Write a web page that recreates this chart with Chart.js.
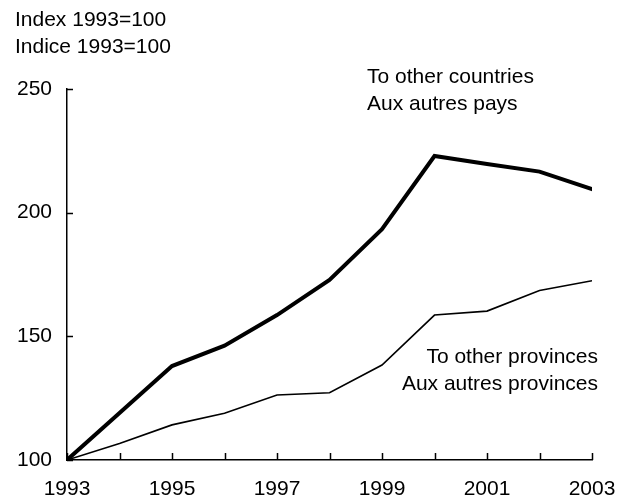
<!DOCTYPE html>
<html>
<head>
<meta charset="utf-8">
<script src="https://cdn.jsdelivr.net/npm/chart.js@4.4.1/dist/chart.umd.min.js"></script>
<style>
    html, body { margin: 0; padding: 0; background: #fff; }
    #wrap { position: relative; width: 629px; height: 502px; }
</style>
</head>
<body>
<div id="wrap"><canvas id="exports-index"></canvas></div>
<script>
// Years and index values (1993 = 100)
const years = [1993, 1994, 1995, 1996, 1997, 1998, 1999, 2000, 2001, 2002, 2003];
const toCountries = [100, 119, 138, 146.2, 158.6, 172.8, 193.3, 222.9, 219.7, 216.6, 209.5];
const toProvinces = [100, 106.7, 114.2, 118.9, 126.3, 127.2, 138.4, 158.6, 160.2, 168.5, 172.5];
const yTicks = [100, 150, 200, 250];

const fontFamily = '"Liberation Sans", Arial, Helvetica, sans-serif';
const textFont = '21px ' + fontFamily;

// short tick marks pointing into the plot, plus the free text labels
const innerTicks = {
    id: 'innerTicks',
    afterDraw(chart) {
        const ctx = chart.ctx;
        const x = chart.scales.x;
        const y = chart.scales.y;
        ctx.save();
        ctx.strokeStyle = '#000';
        ctx.lineWidth = 1.5;
        ctx.beginPath();
        years.forEach(function(yr) {
            const px = Math.round(x.getPixelForValue(yr)) + 0.5;
            ctx.moveTo(px, y.bottom);
            ctx.lineTo(px, y.bottom - 7);
        });
        yTicks.forEach(function(v) {
            const py = Math.round(y.getPixelForValue(v)) + 0.5;
            ctx.moveTo(x.left, py);
            ctx.lineTo(x.left + 6, py);
        });
        ctx.stroke();

        ctx.fillStyle = '#000';
        ctx.font = textFont;
        ctx.textBaseline = 'middle';
        ctx.textAlign = 'left';
        ctx.fillText('Index 1993=100', 15, 20);
        ctx.fillText('Indice 1993=100', 15, 47);
        ctx.fillText('To other countries', 367, 77);
        ctx.fillText('Aux autres pays', 367, 104);
        ctx.textAlign = 'right';
        ctx.fillText('To other provinces', 598, 357);
        ctx.fillText('Aux autres provinces', 598, 384);
        ctx.restore();
    }
};

const data = {
    labels: years,
    datasets: [{
        label: 'To other countries / Aux autres pays',
        data: years.map((yr, i) => ({ x: yr, y: toCountries[i] })),
        borderColor: '#000',
        borderWidth: 4,
        pointRadius: 0,
        tension: 0,
        borderCapStyle: 'round',
        borderJoinStyle: 'miter'
    }, {
        label: 'To other provinces / Aux autres provinces',
        data: years.map((yr, i) => ({ x: yr, y: toProvinces[i] })),
        borderColor: '#000',
        borderWidth: 1.6,
        pointRadius: 0,
        tension: 0
    }]
};

const config = {
    type: 'line',
    data: data,
    options: {
        responsive: true,
        maintainAspectRatio: false,
        animation: false,
        layout: {
            padding: { top: 89, right: 37, left: 0, bottom: 0 }
        },
        plugins: {
            legend: { display: false },
            title: { display: false },
            tooltip: { enabled: false }
        },
        scales: {
            x: {
                type: 'linear',
                min: 1993,
                max: 2003,
                afterFit: function(scale) {
                    scale.height = 42;
                    // year labels may hang past the plot edges
                    scale.paddingLeft = 0;
                    scale.paddingRight = 0;
                },
                grid: { display: true, drawOnChartArea: false, drawTicks: false },
                border: { display: true, color: '#000', width: 1.5 },
                ticks: {
                    stepSize: 2,
                    color: '#000',
                    padding: 17,
                    maxRotation: 0,
                    font: { family: fontFamily, size: 21 },
                    callback: function(v) { return String(v); }
                }
            },
            y: {
                min: 100,
                max: 250,
                afterFit: function(scale) {
                    scale.width = 67;
                    scale.paddingTop = 0;
                    scale.paddingBottom = 0;
                },
                grid: { display: true, drawOnChartArea: false, drawTicks: false },
                border: { display: true, color: '#000', width: 1.5 },
                ticks: {
                    stepSize: 50,
                    color: '#000',
                    padding: 15,
                    font: { family: fontFamily, size: 21 }
                }
            }
        }
    },
    plugins: [innerTicks]
};

var myChart = new Chart(document.getElementById('exports-index'), config);
</script>
</body>
</html>
